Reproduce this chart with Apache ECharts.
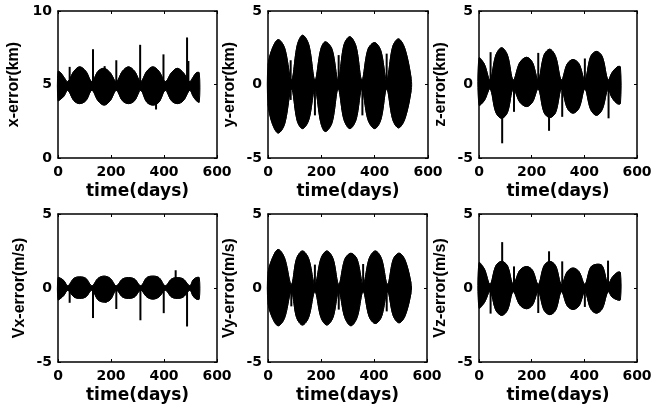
<!DOCTYPE html>
<html><head><meta charset="utf-8">
<script src="https://cdn.jsdelivr.net/npm/echarts@6/dist/echarts.min.js"></script>
<style>html,body{margin:0;padding:0;background:#fff}#c{width:655px;height:408px}</style>
</head><body><div id="c"></div>
<script>
// ---------- data ----------
const xTickValues = [0, 200, 400, 600];
const yLabels = ['x-error(km)', 'y-error(km)', 'z-error(km)', 'Vx-error(m/s)', 'Vy-error(m/s)', 'Vz-error(m/s)'];
const xLabel = 'time(days)';
const yRanges = [[0, 10], [-5, 5], [-5, 5], [-5, 5], [-5, 5], [-5, 5]];

// envelope sample days
const tA = [0, 10, 22, 37, 60, 82, 105, 128, 151, 174, 197, 220, 243, 266, 289, 312, 335, 358, 381, 405, 428, 450, 473, 497, 510, 522, 533];
const tB = [0, 15, 38, 62, 88, 110, 130, 153, 176, 198, 215, 240, 263, 285, 307, 330, 352, 375, 400, 423, 445, 468, 490, 514, 537];
const tC = [0, 20, 42, 64, 86, 108, 130, 155, 181, 203, 225, 247, 269, 291, 313, 335, 357, 380, 402, 424, 446, 468, 490, 505, 525, 537];
const tD = [0, 15, 38, 62, 88, 108, 130, 153, 177, 200, 222, 245, 267, 290, 313, 336, 359, 382, 405, 428, 451, 473, 495, 518, 540];

// x-error
const xErrHi = [5.9, 5.8, 5.5, 5.2, 5.9, 6.2, 5.9, 5.2, 5.9, 6.1, 5.8, 5.2, 5.9, 6.2, 5.9, 5.2, 5.9, 6.2, 5.9, 5.2, 5.8, 6.1, 5.8, 5.2, 5.5, 5.8, 5.8];
const xErrLo = [3.9, 4.0, 4.2, 4.6, 3.9, 3.7, 3.9, 4.6, 3.9, 3.6, 3.9, 4.6, 3.9, 3.7, 3.9, 4.6, 3.8, 3.6, 3.8, 4.6, 3.9, 3.7, 3.9, 4.6, 4.2, 3.9, 3.8];
// y-error
const yErrHi = [1.3, 2.4, 3.05, 2.5, 0.3, 2.7, 3.35, 2.7, 0.3, 2.4, 2.9, 2.4, 0.3, 2.7, 3.25, 2.6, 0.3, 2.4, 2.85, 2.3, 0.3, 2.6, 3.1, 2.4, 0.4];
const yErrLo = [-1.3, -2.6, -3.3, -2.7, -0.3, -2.5, -3.0, -2.4, -0.3, -2.6, -3.2, -2.6, -0.3, -2.4, -3.0, -2.4, -0.3, -2.4, -3.0, -2.4, -0.3, -2.4, -2.95, -2.3, -0.4];
// z-error
const zErrHi = [1.8, 1.4, 0.3, 2.0, 2.5, 2.0, 0.3, 1.5, 1.85, 1.5, 0.3, 2.0, 2.4, 1.9, 0.3, 1.4, 1.7, 1.4, 0.3, 1.9, 2.25, 1.9, 0.3, 0.8, 1.2, 1.2];
const zErrLo = [-1.4, -1.1, -0.3, -1.9, -2.3, -1.9, -0.3, -1.2, -1.5, -1.2, -0.3, -1.9, -2.25, -1.9, -0.3, -1.6, -1.95, -1.6, -0.3, -1.7, -2.1, -1.7, -0.3, -0.9, -1.3, -1.3];
// Vx-error
const vxErrHi = [0.7, 0.65, 0.5, 0.15, 0.65, 0.75, 0.65, 0.15, 0.65, 0.8, 0.65, 0.15, 0.6, 0.7, 0.6, 0.15, 0.7, 0.8, 0.7, 0.15, 0.6, 0.7, 0.6, 0.15, 0.55, 0.7, 0.7];
const vxErrLo = [-0.8, -0.7, -0.5, -0.15, -0.6, -0.7, -0.6, -0.15, -0.8, -0.95, -0.8, -0.15, -0.6, -0.7, -0.6, -0.15, -0.6, -0.75, -0.6, -0.15, -0.6, -0.7, -0.6, -0.15, -0.55, -0.75, -0.75];
// Vy-error
const vyErrHi = [1.0, 1.95, 2.6, 2.05, 0.25, 2.0, 2.5, 2.0, 0.25, 2.0, 2.5, 2.0, 0.25, 1.95, 2.35, 1.95, 0.25, 2.0, 2.5, 2.0, 0.25, 1.95, 2.35, 1.85, 0.3];
const vyErrLo = [-1.0, -1.95, -2.55, -2.05, -0.25, -2.0, -2.5, -2.0, -0.25, -2.0, -2.5, -2.0, -0.25, -2.0, -2.55, -2.0, -0.25, -1.95, -2.4, -1.95, -0.25, -1.9, -2.35, -1.85, -0.3];
// Vz-error
const vzErrHi = [1.7, 1.3, 0.25, 1.5, 1.8, 1.5, 0.25, 1.2, 1.45, 1.2, 0.25, 1.5, 1.8, 1.5, 0.25, 1.1, 1.35, 1.1, 0.25, 1.4, 1.6, 1.5, 0.25, 0.7, 1.05, 1.05];
const vzErrLo = [-1.35, -1.0, -0.25, -1.5, -1.85, -1.5, -0.25, -1.15, -1.4, -1.15, -0.25, -1.5, -1.8, -1.5, -0.25, -1.2, -1.45, -1.2, -0.25, -1.4, -1.7, -1.4, -0.25, -0.6, -0.8, -0.8];

// spikes: [day, from, to]
const xErrSpikes = [[44, 4.9, 6.2], [132, 4.9, 7.4], [176, 4.9, 6.25], [220, 4.9, 6.65], [310, 4.9, 7.7], [370, 4.9, 3.3], [398, 4.9, 7.05], [487, 4.9, 8.2], [492, 4.9, 6.6]];
const yErrSpikes = [[85, -1.05, 1.65], [176, 0, -2.1], [265, 0, 2.0], [354, 0, -2.1], [445, 0, 2.1]];
const zErrSpikes = [[44, 0, 2.2], [88, 0, -4.0], [133, 0, -1.86], [225, 0, 2.15], [266, 0, -3.15], [316, 0, -2.2], [402, 0, 1.77], [492, 0, -2.3]];
const vxErrSpikes = [[44, 0, -1.0], [132, 0, -2.03], [180, 0, -1.0], [220, 0, -1.42], [311, 0, -2.18], [399, 0, -1.7], [444, 0, 1.2], [487, 0, -2.6]];
const vyErrSpikes = [[88, 0, -1.24], [177, 0, 1.58], [267, 0, -1.46], [359, 0, 1.62], [448, 0, -1.58]];
const vzErrSpikes = [[44, 0, -1.73], [88, 0, 3.1], [133, 0, 1.46], [225, 0, -1.69], [266, 0, 2.48], [316, 0, 1.8], [402, 0, -1.28], [490, 0, 1.85]];

// ---------- build ----------
const panels = [
  {t: tA, hi: xErrHi, lo: xErrLo, sp: xErrSpikes},
  {t: tB, hi: yErrHi, lo: yErrLo, sp: yErrSpikes},
  {t: tC, hi: zErrHi, lo: zErrLo, sp: zErrSpikes},
  {t: tA, hi: vxErrHi, lo: vxErrLo, sp: vxErrSpikes},
  {t: tD, hi: vyErrHi, lo: vyErrLo, sp: vyErrSpikes},
  {t: tC, hi: vzErrHi, lo: vzErrLo, sp: vzErrSpikes}
];
const layout = [
  {left: 58, top: 11, width: 159, height: 147},
  {left: 268, top: 11, width: 160, height: 147},
  {left: 479, top: 11, width: 158, height: 147},
  {left: 58, top: 214, width: 159, height: 148},
  {left: 268, top: 214, width: 159, height: 148},
  {left: 479, top: 214, width: 158, height: 148}
];
const tickFont = {fontFamily: 'DejaVu Sans', fontWeight: 'bold', fontSize: 14, color: '#000'};
const lineStyleAxis = {color: '#000', width: 1.5};

const grid = [], xAxis = [], yAxis = [], series = [];
panels.forEach((p, i) => {
  grid.push(Object.assign({containLabel: false}, layout[i]));
  const xi = xAxis.length, yi = yAxis.length;
  xAxis.push({
    type: 'value', gridIndex: i, min: 0, max: 600, interval: 200, position: 'bottom',
    axisLine: {show: true, onZero: false, lineStyle: lineStyleAxis},
    axisTick: {show: true, inside: true, length: 3, lineStyle: {color: '#000'}},
    axisLabel: Object.assign({margin: 7, formatter: v => xTickValues.includes(v) ? String(v) : ''}, tickFont),
    splitLine: {show: false},
    name: xLabel, nameLocation: 'middle', nameGap: 25,
    nameTextStyle: {fontFamily: 'DejaVu Sans', fontWeight: 'bold', fontSize: 17, color: '#000'}
  });
  xAxis.push({
    type: 'value', gridIndex: i, min: 0, max: 600, interval: 200, position: 'top',
    axisLine: {show: true, onZero: false, lineStyle: lineStyleAxis},
    axisTick: {show: true, inside: true, length: 3, lineStyle: {color: '#000'}},
    axisLabel: {show: false}, splitLine: {show: false}
  });
  yAxis.push({
    type: 'value', gridIndex: i, min: yRanges[i][0], max: yRanges[i][1], interval: 5, position: 'left',
    axisLine: {show: true, onZero: false, lineStyle: lineStyleAxis},
    axisTick: {show: true, inside: true, length: 3, lineStyle: {color: '#000'}},
    axisLabel: Object.assign({margin: 6}, tickFont),
    splitLine: {show: false},
    name: yLabels[i], nameLocation: 'middle', nameGap: i === 0 ? 36 : 30, nameRotate: 90,
    nameTextStyle: {fontFamily: 'Liberation Sans', fontWeight: 'bold', fontSize: 16, color: '#000'}
  });
  yAxis.push({
    type: 'value', gridIndex: i, min: yRanges[i][0], max: yRanges[i][1], interval: 5, position: 'right',
    axisLine: {show: true, onZero: false, lineStyle: lineStyleAxis},
    axisTick: {show: true, inside: true, length: 3, lineStyle: {color: '#000'}},
    axisLabel: {show: false}, splitLine: {show: false}
  });
  // envelope band: one polygon through the sampled upper/lower envelope
  const bandData = p.t.map((d, k) => [d, p.lo[k], p.hi[k]]);
  series.push({
    type: 'custom', xAxisIndex: xi, yAxisIndex: yi, data: bandData, z: 3, silent: true,
    encode: {x: 0, y: [1, 2]},
    renderItem: (params, api) => {
      if (params.dataIndex !== 0) return null;
      const upper = bandData.map(r => api.coord([r[0], r[2]]));
      const lower = bandData.map(r => api.coord([r[0], r[1]])).reverse();
      return {
        type: 'group', children: [
          {type: 'polyline', shape: {points: upper, smooth: 0.35}, style: {stroke: '#000', lineWidth: 1, fill: null}},
          {type: 'polyline', shape: {points: lower, smooth: 0.35}, style: {stroke: '#000', lineWidth: 1, fill: null}},
          {type: 'polygon', shape: {points: upper.concat(lower), smooth: 0.35}, style: {fill: '#000', stroke: '#000', lineWidth: 1}}
        ]
      };
    }
  });
  series.push({
    type: 'custom', xAxisIndex: xi, yAxisIndex: yi, data: p.sp, z: 4, silent: true,
    encode: {x: 0, y: [1, 2]},
    renderItem: (params, api) => {
      const a = api.coord([api.value(0), api.value(1)]);
      const b = api.coord([api.value(0), api.value(2)]);
      return {type: 'line', shape: {x1: a[0], y1: a[1], x2: b[0], y2: b[1]}, style: {stroke: '#000', lineWidth: 2}};
    }
  });
});

const chart = echarts.init(document.getElementById('c'), null, {renderer: 'canvas'});
chart.setOption({backgroundColor: '#fff', animation: false, grid, xAxis, yAxis, series});
</script>
</body></html>
